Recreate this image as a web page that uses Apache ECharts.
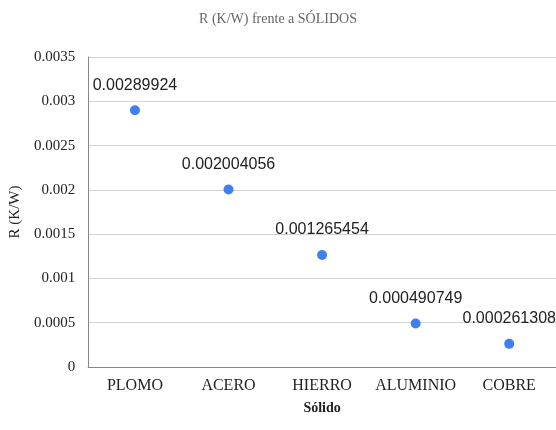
<!DOCTYPE html>
<html><head><meta charset="utf-8">
<script src="https://cdn.jsdelivr.net/npm/echarts@6/dist/echarts.min.js"></script>
<style>html,body{margin:0;padding:0;background:#fff}#c{width:556px;height:430px}</style>
</head><body><div id="c"></div>
<script>
var categories = ['PLOMO','ACERO','HIERRO','ALUMINIO','COBRE'];
var values = [0.00289924, 0.002004056, 0.001265454, 0.000490749, 0.000261308];
var labels = ['0.00289924','0.002004056','0.001265454','0.000490749','0.000261308'];

var chart = echarts.init(document.getElementById('c'));
chart.setOption({
  animation:false,
  title:{text:'R (K/W) frente a SÓLIDOS',left:'center',top:7,textStyle:{fontFamily:'Liberation Serif',fontSize:14,fontWeight:'normal',color:'#666'}},
  grid:{left:87,right:-1,top:57,bottom:63},
  xAxis:{type:'category',data:categories,name:'Sólido',nameLocation:'middle',nameGap:34,
    nameTextStyle:{fontFamily:'Liberation Serif',fontSize:14,fontWeight:'bold',color:'#222'},
    axisLine:{lineStyle:{color:'#888'}},axisTick:{show:false},
    axisLabel:{interval:0,fontFamily:'Liberation Serif',fontSize:16,color:'#222',margin:11}},
  yAxis:{type:'value',min:0,max:0.0035,interval:0.0005,name:'R (K/W)',nameLocation:'middle',nameGap:62,
    nameTextStyle:{fontFamily:'Liberation Serif',fontSize:15,color:'#222'},
    axisLine:{show:true,lineStyle:{color:'#888'}},axisTick:{show:false},
    splitLine:{lineStyle:{color:'#d4d4d4'}},
    axisLabel:{fontFamily:'Liberation Serif',fontSize:15,color:'#222',margin:13,
      formatter:function(v){return String(Number(v.toFixed(6)));}}},
  series:[{type:'scatter',symbolSize:10,itemStyle:{color:'#3f80f0',opacity:1},
    data:values,
    label:{show:true,position:'top',distance:12,fontFamily:'Liberation Sans',fontSize:16,color:'#222',
      formatter:function(p){return labels[p.dataIndex];}}}]
});
</script></body></html>
